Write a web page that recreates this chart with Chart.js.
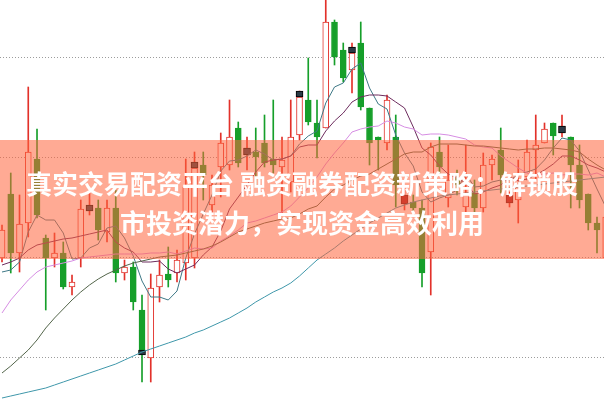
<!DOCTYPE html>
<html lang="zh">
<head>
  <meta charset="UTF-8">
  <title>融资融券配资K线</title>
  <script src="https://cdn.jsdelivr.net/npm/chart.js"></script>
  <style>
    body {
      margin: 0;
      background: #ffffff;
    }

    .wrap {
      position: relative;
      width: 604px;
      height: 401px;
      overflow: hidden;
    }

    .band {
      position: absolute;
      left: 0;
      top: 140px;
      width: 604px;
      height: 119px;
      background: rgba(255, 100, 60, 0.55);
    }

    .headline {
      position: absolute;
      left: 0;
      top: 163px;
      width: 604px;
      text-align: center;
      color: #ffffff;
      font-family: "Noto Sans CJK SC", sans-serif;
      font-weight: bold;
      font-size: 26px;
      line-height: 39px;
    }
  </style>
</head>
<body>
  <div class="wrap">
    <canvas id="kChart"></canvas>
    <div class="band"></div>
    <div class="headline">真实交易配资平台 融资融券配资新策略：解锁股<br>市投资潜力，实现资金高效利用</div>
  </div>

  <script>
    // 日K数据（价格）
    const opens  = [10.99, 11.63, 11.04, 11.34, 11.98, 11.19, 10.99, 11.04, 10.70, 10.99,
                    11.46, 11.49, 11.25, 11.49, 10.84, 10.90, 10.47, 9.99, 10.70, 10.83,
                    10.84, 10.94, 10.99, 11.92, 11.52, 11.90, 11.92, 12.29, 12.02, 12.05,
                    12.14, 11.98, 11.90, 11.75, 12.22, 12.57, 12.34, 12.29, 13.35, 13.07,
                    12.87, 13.14, 12.49, 12.20, 12.14, 12.20, 11.53, 11.55, 11.49, 11.05,
                    12.05, 11.59, 11.79, 11.50, 11.64, 11.49, 11.92, 12.07, 11.54, 11.57,
                    11.80, 12.07, 12.14, 12.34, 12.24, 12.20, 11.92, 11.63, 11.34, 10.99];
    const closes = [11.27, 11.04, 11.33, 12.05, 11.42, 10.99, 11.04, 10.70, 10.75, 11.48,
                    11.51, 11.27, 11.49, 10.84, 10.90, 10.55, 10.04, 10.69, 10.82, 10.77,
                    10.97, 11.70, 11.89, 11.82, 11.72, 12.14, 12.20, 11.94, 12.09, 12.00,
                    11.94, 11.92, 11.97, 12.20, 12.60, 12.35, 12.20, 13.35, 13.00, 12.79,
                    13.04, 12.50, 12.14, 12.17, 12.57, 11.72, 11.61, 11.49, 10.84, 12.10,
                    11.90, 11.77, 11.72, 11.64, 11.49, 11.92, 11.98, 11.82, 11.62, 11.77,
                    12.05, 12.12, 12.28, 12.21, 12.31, 11.92, 11.57, 11.34, 11.27, 11.40];
    const highs  = [11.32, 11.84, 11.62, 12.70, 12.28, 11.22, 11.24, 11.15, 10.82, 11.57,
                    11.67, 11.57, 11.57, 11.67, 10.97, 10.95, 10.62, 10.83, 10.97, 11.10,
                    11.07, 11.98, 12.05, 12.05, 11.82, 12.24, 12.57, 12.35, 12.20, 12.29,
                    12.42, 12.57, 12.20, 12.57, 12.66, 12.99, 12.57, 13.62, 13.37, 13.14,
                    13.14, 13.35, 12.49, 12.20, 12.62, 12.42, 11.69, 11.62, 11.57, 12.14,
                    12.20, 12.12, 11.87, 12.12, 11.77, 12.04, 12.02, 12.29, 11.65, 11.97,
                    12.17, 12.42, 12.34, 12.34, 12.42, 12.20, 12.12, 11.63, 11.40, 11.47];
    const lows   = [10.95, 10.84, 10.85, 11.20, 11.39, 10.47, 10.90, 10.68, 10.62, 10.90,
                    11.42, 11.17, 11.15, 10.75, 10.77, 10.47, 9.75, 9.75, 10.55, 10.70,
                    10.75, 10.77, 10.89, 11.57, 11.44, 11.60, 11.87, 11.90, 11.87, 11.70,
                    11.90, 11.84, 11.42, 11.65, 12.17, 12.32, 11.99, 12.29, 12.92, 12.75,
                    12.64, 12.47, 11.92, 11.87, 12.07, 11.50, 11.47, 11.45, 10.70, 10.62,
                    11.82, 11.50, 11.62, 11.44, 11.44, 11.45, 11.77, 11.64, 11.50, 11.34,
                    11.77, 11.77, 12.14, 12.02, 12.20, 11.49, 11.49, 11.27, 11.04, 10.92];

    // 均线
    const ma5  = [10.85, 10.87, 10.95, 11.25, 11.42, 11.37, 11.37, 11.24, 10.98, 10.99,
                  11.09, 11.13, 11.29, 11.31, 11.19, 11.01, 10.76, 10.60, 10.60, 10.57,
                  10.66, 10.99, 11.23, 11.43, 11.62, 11.86, 11.96, 11.97, 12.01, 12.07,
                  12.03, 11.97, 11.98, 12.01, 12.13, 12.21, 12.26, 12.54, 12.70, 12.74,
                  12.88, 12.94, 12.69, 12.53, 12.48, 12.22, 12.04, 11.91, 11.65, 11.55,
                  11.59, 11.62, 11.67, 11.83, 11.70, 11.71, 11.75, 11.77, 11.77, 11.82,
                  11.85, 11.88, 11.97, 12.09, 12.19, 12.17, 12.06, 11.87, 11.68, 11.50];
    const ma10 = [10.92, 10.95, 10.99, 11.07, 11.12, 11.14, 11.16, 11.18, 11.19, 11.21,
                  11.23, 11.25, 11.27, 11.15, 11.09, 11.05, 10.95, 10.95, 10.96, 10.88,
                  10.84, 10.88, 10.92, 11.02, 11.10, 11.26, 11.48, 11.60, 11.72, 11.85,
                  11.95, 11.97, 11.98, 12.01, 12.10, 12.12, 12.12, 12.26, 12.36, 12.44,
                  12.55, 12.60, 12.62, 12.62, 12.61, 12.55, 12.49, 12.30, 12.09, 12.02,
                  11.91, 11.83, 11.79, 11.74, 11.63, 11.65, 11.69, 11.72, 11.80, 11.76,
                  11.78, 11.82, 11.87, 11.93, 12.01, 12.01, 11.97, 11.92, 11.89, 11.85];
    const ma20 = [10.44, 10.57, 10.67, 10.77, 10.85, 10.90, 10.92, 10.94, 10.96, 10.99,
                  11.00, 11.01, 11.02, 11.03, 11.03, 11.03, 11.03, 11.04, 11.04, 11.05,
                  11.03, 11.06, 11.09, 11.08, 11.09, 11.16, 11.21, 11.27, 11.34, 11.36,
                  11.39, 11.42, 11.45, 11.51, 11.60, 11.69, 11.80, 11.93, 12.04, 12.14,
                  12.25, 12.28, 12.30, 12.31, 12.36, 12.34, 12.30, 12.28, 12.22, 12.23,
                  12.23, 12.22, 12.20, 12.18, 12.12, 12.10, 12.09, 12.01, 11.95, 11.89,
                  11.84, 11.82, 11.83, 11.84, 11.82, 11.83, 11.83, 11.82, 11.84, 11.80];
    const ma30 = [9.84, 9.91, 9.99, 10.07, 10.17, 10.29, 10.39, 10.48, 10.57, 10.65,
                  10.72, 10.78, 10.83, 10.87, 10.91, 10.94, 10.96, 10.98, 11.00, 11.01,
                  11.02, 11.04, 11.06, 11.08, 11.11, 11.15, 11.20, 11.25, 11.28, 11.31,
                  11.34, 11.36, 11.38, 11.39, 11.43, 11.48, 11.51, 11.60, 11.68, 11.72,
                  11.77, 11.81, 11.83, 11.88, 11.93, 11.98, 12.03, 12.05, 12.05, 12.10,
                  12.13, 12.13, 12.13, 12.12, 12.11, 12.11, 12.10, 12.09, 12.08, 12.07,
                  12.08, 12.08, 12.09, 12.09, 12.08, 12.07, 12.05, 11.98, 11.92, 11.87];
    const ma60 = [9.59, 9.61, 9.63, 9.65, 9.67, 9.69, 9.72, 9.75, 9.78, 9.81,
                  9.84, 9.87, 9.90, 9.93, 9.97, 10.01, 10.05, 10.08, 10.11, 10.14,
                  10.17, 10.20, 10.24, 10.27, 10.31, 10.35, 10.39, 10.44, 10.49, 10.55,
                  10.60, 10.65, 10.69, 10.74, 10.81, 10.89, 10.97, 11.03, 11.09, 11.16,
                  11.22, 11.28, 11.34, 11.39, 11.44, 11.49, 11.52, 11.55, 11.57, 11.59,
                  11.61, 11.62, 11.63, 11.64, 11.65, 11.66, 11.67, 11.68, 11.69, 11.70,
                  11.71, 11.72, 11.73, 11.74, 11.75, 11.76, 11.77, 11.78, 11.79, 11.80];

    // 信号标记
    const markIdx  = [10, 16, 22, 28, 34, 40, 46, 58, 64];
    const markLow  = [11.46, 10.02, 11.89, 12.02, 12.60, 13.04, 11.53, 11.54, 12.24];
    const markHigh = [11.52, 10.07, 11.95, 12.09, 12.66, 13.10, 11.62, 11.62, 12.31];
    const markRed  = [false, false, false, false, false, false, true, true, false];

    const gridPrices = [10, 11, 12, 13];

    const RED = '#e2312a';
    const GREEN = '#169f2a';

    const idx = opens.map((_, i) => i);
    const isUp = idx.map(i => closes[i] >= opens[i]);
    const candleColor = isUp.map(u => u ? RED : GREEN);

    function maLine(values, color) {
      return {
        type: 'line',
        data: idx.map(i => ({ x: i, y: values[i] })),
        borderColor: color,
        borderWidth: 1,
        pointRadius: 0,
        tension: 0,
        order: 1
      };
    }

    new Chart(document.getElementById('kChart'), {
      type: 'bar',
      data: {
        datasets: [
          {
            data: idx.map(i => ({ x: i, y: [lows[i], highs[i]] })),
            backgroundColor: candleColor,
            barThickness: 1,
            grouped: false,
            order: 4
          },
          {
            data: idx.map(i => ({ x: i, y: [opens[i], closes[i]] })),
            backgroundColor: isUp.map(u => u ? '#ffffff' : GREEN),
            borderColor: candleColor,
            borderWidth: 1,
            borderSkipped: false,
            barThickness: 6,
            minBarLength: 2,
            grouped: false,
            order: 3
          },
          {
            data: markIdx.map((k, j) => ({ x: k, y: [markLow[j], markHigh[j]] })),
            backgroundColor: markRed.map(r => r ? '#a3121c' : '#2a3a46'),
            borderColor: markRed.map(r => r ? '#5a0a0a' : '#000000'),
            borderWidth: 1,
            borderSkipped: false,
            barThickness: 7,
            grouped: false,
            order: 2
          },
          maLine(ma60, '#3f97aa'),
          maLine(ma30, '#53654a'),
          maLine(ma20, '#d68de3'),
          maLine(ma10, '#6d2c5e'),
          maLine(ma5, '#3e7886')
        ]
      },
      options: {
        responsive: true,
        maintainAspectRatio: false,
        animation: false,
        layout: { padding: 0 },
        plugins: {
          legend: { display: false },
          tooltip: { enabled: false }
        },
        scales: {
          x: {
            type: 'linear',
            min: -0.23,
            max: 68.8,
            offset: false,
            display: false
          },
          y: {
            min: 9.56,
            max: 13.57,
            afterBuildTicks: scale => {
              scale.ticks = gridPrices.map(v => ({ value: v }));
            },
            ticks: { display: false },
            grid: { color: '#9c9c9c', drawTicks: false, lineWidth: 1 },
            border: { display: false, dash: [1, 2] }
          }
        }
      }
    });
  </script>
</body>
</html>
